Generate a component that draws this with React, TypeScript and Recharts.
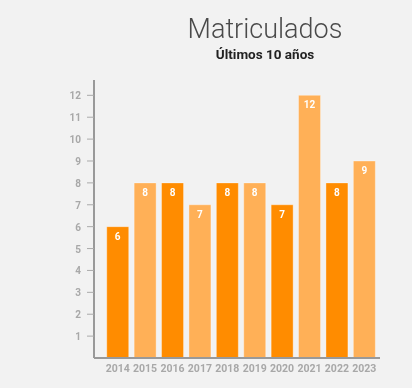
import { BarChart, Bar, XAxis, YAxis, Cell, LabelList } from 'recharts';

const years = ['2014', '2015', '2016', '2017', '2018', '2019', '2020', '2021', '2022', '2023'];
const enrolled = [6, 8, 8, 7, 8, 8, 7, 12, 8, 9];
const yTicks = [1, 2, 3, 4, 5, 6, 7, 8, 9, 10, 11, 12];

const DARK = '#ff8c00';
const LIGHT = '#ffb057';

const data = years.map((year, i) => ({ year, value: enrolled[i] }));

const YTick = (props: any) => {
  const { x, y, payload } = props;
  return (
    <g>
      <line x1={x + 1} x2={x + 8} y1={y} y2={y} stroke="#aaa" strokeWidth={1} />
      <text x={x - 5} y={y} dy={4} textAnchor="end" fontSize={10} fontWeight={700} fill="#a8a8a8">
        {payload.value}
      </text>
    </g>
  );
};

const XTick = (props: any) => {
  const { x, y, payload } = props;
  return (
    <text x={x} y={y} dy={6} textAnchor="middle" fontSize={10.5} fontWeight={700} fill="#a8a8a8">
      {payload.value}
    </text>
  );
};

export default function App() {
  return (
    <div
      style={{
        position: 'fixed',
        left: 0,
        top: 0,
        width: 412,
        height: 388,
        background: '#f2f2f2',
        fontFamily: 'Roboto, sans-serif',
      }}
    >
      <div style={{ position: 'absolute', left: 0, width: 530, top: 12, textAlign: 'center', fontSize: 27, fontWeight: 300, color: '#4a4a4a', lineHeight: '34px' }}>
        Matriculados
      </div>
      <div style={{ position: 'absolute', left: 0, width: 530, top: 45, textAlign: 'center', fontSize: 13.5, fontWeight: 700, color: '#222', lineHeight: '18px' }}>
        Últimos 10 años
      </div>
      <BarChart
        width={412}
        height={388}
        data={data}
        margin={{ top: 80, right: 32, bottom: 10, left: 0 }}
        barCategoryGap="10%"
        style={{ position: 'absolute', left: 0, top: 0 }}
      >
        <XAxis
          dataKey="year"
          height={20}
          padding={{ left: 10, right: 2 }}
          axisLine={{ stroke: '#999', strokeWidth: 2 }}
          tickLine={false}
          tick={<XTick />}
          interval={0}
        />
        <YAxis
          width={94}
          domain={[0, 12.7]}
          ticks={yTicks}
          axisLine={{ stroke: '#999', strokeWidth: 2 }}
          tickLine={false}
          tick={<YTick />}
          interval={0}
        />
        <Bar dataKey="value" isAnimationActive={false} stroke="rgba(255,255,255,0.35)" strokeWidth={1}>
          {data.map((d, i) => (
            <Cell key={d.year} fill={i % 2 === 0 ? DARK : LIGHT} />
          ))}
          <LabelList dataKey="value" position="insideTop" offset={6} fill="#fff" fontSize={10} fontWeight={700} />
        </Bar>
      </BarChart>
    </div>
  );
}
